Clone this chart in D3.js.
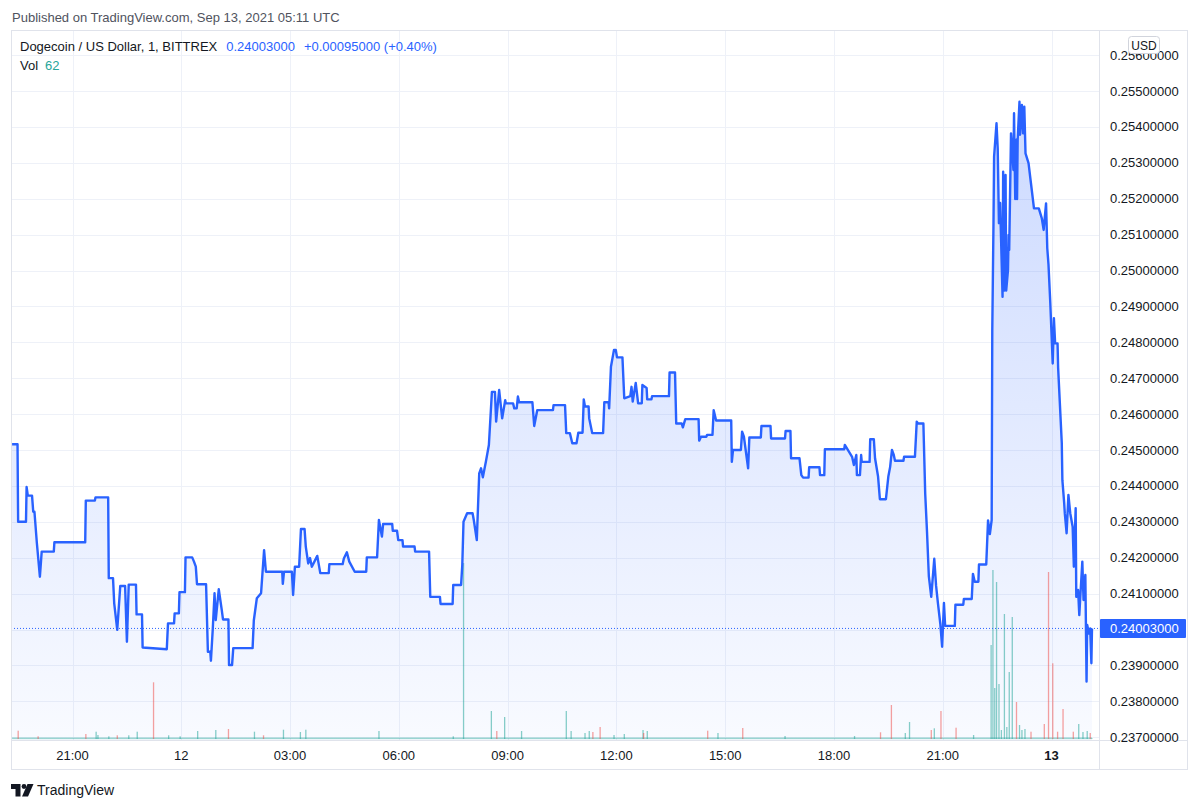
<!DOCTYPE html>
<html>
<head>
<meta charset="utf-8">
<script src="https://cdn.jsdelivr.net/npm/d3@7"></script>
<style>
  body { margin: 0; background: #fff; }
  svg { display: block; font-family: "Liberation Sans", Arial, sans-serif; }
</style>
</head>
<body>
<svg id="chart" width="1200" height="809"></svg>
<script>
// turning points of the 1-minute closes, minutes after Sep 11 19:00 (chart time)
var minutes = [
  20,29,30,43,44,46,53,55,57,61,66,69,89,90,141,142,157,158,179,180,
  187,189,194,199,207,210,213,225,226,235,236,276,278,288,289,296,297,306,307,318,
  321,324,326,341,344,348,349,352,355,357,362,367,369,378,379,384,386,418,420,425,
  432,437,440,467,
  468,470,483,485,488,495,498,504,506,510,513,516,525,530,544,545,567,569,574,578,
  587,606,607,624,627,632,634,649,650,657,659,666,667,686,687,710,712,728,729,749,
  750,763,765,767,773,782,784,789,793,796,799,804,809,814,819,821,826,831,836,837,
  849,851,855,857,859,881,884,889,915,916,
  935,937,943,947,954,957,964,966,968,974,975,980,998,1000,1007,1008,1011,1016,1019,1021,
  1030,1033,1043,1045,1047,1052,1056,1062,1063,1070,1071,1078,1079,1107,1108,1117,1119,1128,1130,1134,
  1156,1157,1160,1169,1170,1179,1181,1185,1210,1211,1213,1226,1228,1231,1238,1240,1259,1260,1275,1276,
  1299,1300,1308,1309,1323,1326,1329,1338,1339,1356,1357,1364,1365,1397,1398,1405,1410,1413,1417,1418,
  1423,1425,1426,1439,1440,1446,1448,1453,1456,1466,1470,1473,1476,1479,1481,1495,1496,1514,1517,1519,
  1528,1531,
  1534,1537,1541,1546,1549,1552,1556,1559,1562,1564,1580,1581,1594,1595,1608,1610,1613,1619,1620,1632,
  1635,1638,1641,1642,1644,1645,1649,1651,1653,1655,1656,1659,1660,1662,1664,1665,1668,1669,1670,1673,
  1677,1678,1680,1682,1683,1684,1687,1688,1691,1693,1695,1697,1702,1706,1711,1719,1724,1727,1731,1733,
  1735,1738,1742,1744,1746,1750,1751,1757,1758,1761,1762,1765,1768,1771,1775,1777,1780,1781,1784,1786,
  1788,1791,1793,1796,1798,1799,1802,1804,1806,1807
];
var closes = [
  0.24516,0.24516,0.24300,0.24300,0.24397,0.24373,0.24373,0.24328,0.24328,0.24241,
  0.24147,0.24217,0.24217,0.24243,0.24243,0.24359,0.24359,0.24368,0.24368,0.24143,
  0.24143,0.24073,0.23999,0.24121,0.24121,0.23966,0.24125,0.24125,0.24042,0.24042,
  0.23950,0.23945,0.24017,0.24017,0.24045,0.24045,0.24104,0.24104,0.24201,0.24201,
  0.24189,0.24175,0.24126,0.24126,0.23938,0.23938,0.23913,0.23999,0.24101,0.24026,
  0.24112,0.24054,0.24028,0.24028,0.23901,0.23901,0.23948,0.23948,0.24025,0.24087,
  0.24101,0.24221,0.24161,0.24161,
  0.24127,0.24161,0.24161,0.24096,0.24175,0.24175,0.24280,0.24280,0.24231,0.24184,
  0.24199,0.24175,0.24205,0.24157,0.24157,0.24182,0.24182,0.24198,0.24215,0.24189,
  0.24161,0.24161,0.24201,0.24201,0.24305,0.24259,0.24294,0.24294,0.24275,0.24275,
  0.24249,0.24249,0.24231,0.24231,0.24217,0.24217,0.24091,0.24091,0.24071,0.24071,
  0.24124,0.24124,0.24180,0.24300,0.24324,0.24324,0.24305,0.24249,0.24435,0.24449,
  0.24424,0.24467,0.24514,0.24662,0.24662,0.24579,0.24667,0.24588,0.24639,0.24630,
  0.24630,0.24616,0.24616,0.24649,0.24633,0.24633,0.24567,0.24611,0.24611,0.24625,
  0.24625,0.24547,0.24547,0.24519,0.24519,0.24548,0.24548,0.24641,0.24621,0.24621,
  0.24588,0.24547,0.24547,0.24633,0.24633,0.24616,0.24732,0.24779,0.24779,0.24758,
  0.24758,0.24644,0.24650,0.24676,0.24635,0.24687,0.24630,0.24630,0.24681,0.24673,
  0.24641,0.24641,0.24650,0.24650,0.24716,0.24716,0.24574,0.24574,0.24563,0.24586,
  0.24586,0.24526,0.24537,0.24537,0.24542,0.24542,0.24611,0.24582,0.24582,0.24467,
  0.24500,0.24500,0.24551,0.24537,0.24449,0.24535,0.24535,0.24567,0.24567,0.24532,
  0.24532,0.24553,0.24553,0.24477,0.24477,0.24430,0.24423,0.24423,0.24452,0.24452,
  0.24430,0.24430,0.24502,0.24502,0.24514,0.24495,0.24481,0.24458,0.24486,0.24430,
  0.24430,0.24486,0.24467,0.24467,0.24530,0.24530,0.24477,0.24426,0.24363,0.24363,
  0.24426,0.24453,0.24500,0.24486,0.24470,0.24470,0.24481,0.24481,0.24579,0.24574,
  0.24574,0.24379,
  0.24272,0.24149,0.24091,0.24197,0.24122,0.24074,0.24016,0.23952,0.24074,0.24010,
  0.24010,0.24069,0.24069,0.24085,0.24085,0.24155,0.24133,0.24133,0.24181,0.24181,
  0.24304,0.24266,0.24305,0.24834,0.25132,0.25317,0.25410,0.25340,0.25132,0.25188,
  0.25122,0.24927,0.25275,0.24944,0.25266,0.24944,0.25001,0.25099,0.25057,0.25382,
  0.25280,0.25438,0.25199,0.25364,0.25199,0.25364,0.25470,0.25378,0.25461,0.25382,
  0.25456,0.25326,0.25299,0.25243,0.25173,0.25173,0.25145,0.25113,0.25187,0.25062,
  0.25017,0.24909,0.24741,0.24867,0.24797,0.24797,0.24728,0.24519,0.24416,0.24352,
  0.24324,0.24268,0.24375,0.24324,0.24286,0.24175,0.24338,0.24091,0.24110,0.24040,
  0.24101,0.24189,0.24082,0.24152,0.23855,0.24013,0.23989,0.24003,0.23906,0.24003
];

// visible volume bars (DOGE), same minute base; 1 = up bar, 0 = down bar
var volMinutes = [
  30,63,142,159,162,180,194,213,227,254,279,298,327,357,378,421,436,469,497,506,
  627,750,767,813,822,835,863,937,945,968,975,981,993,1016,1033,1064,1065,1071,1171,1188,
  1229,1299,1414,1457,1475,1498,1505,1541,1546,1557,1582,1611,1640,1643,1646,1649,1653,1657,1662,1666,
  1670,1675,1682,1687,1691,1696,1706,1728,1735,1742,1750,1759,1776,1785,1792,1799,1804,1807
];
var volumes = [
  830,270,500,730,400,270,370,370,730,5670,370,270,800,900,1000,730,370,930,700,930,
  800,270,17600,2800,800,2200,800,2800,800,600,800,700,1200,400,500,900,600,800,830,600,
  1100,300,300,670,3400,600,1700,900,1070,2800,1130,400,9400,16900,5100,15700,5500,900,12500,1200,
  6700,12200,3700,1400,900,1000,730,1500,16700,7570,730,3000,730,1500,700,800,600,62
];
var volUp = [
  0,0,0,1,1,1,0,1,1,0,1,1,1,1,0,1,0,1,1,1,
  1,1,1,1,0,1,1,1,1,1,1,0,0,1,1,1,0,1,0,1,
  0,1,1,0,0,1,1,0,1,0,0,1,1,1,1,1,1,1,1,1,
  1,1,0,1,1,1,0,0,0,0,0,0,0,1,1,1,0,1
];

var priceTicks = [0.237,0.238,0.239,0.240,0.241,0.242,0.243,0.244,0.245,0.246,
                  0.247,0.248,0.249,0.250,0.251,0.252,0.253,0.254,0.255,0.256];
var lastPrice = 0.24003;
var lastVol = 62;

var base = Date.UTC(2021, 8, 11, 19, 0);
function toDate(m) { return new Date(base + m * 60000); }

var plotLeft = 11, plotRight = 1099, plotTop = 30, plotBottom = 740, axisRight = 1188, axisBottom = 770;

var svg = d3.select("#chart");

var x = d3.scaleUtc()
  .domain([toDate(18.2), toDate(1818.6)])
  .range([plotLeft, plotRight]);

var y = d3.scaleLinear()
  .domain([0.237, 0.256])
  .range([737.2, 55.1]);

var vy = d3.scaleLinear()
  .domain([0, 18000])
  .range([739, 559]);

var points = minutes.map(function(m, i) { return { t: toDate(m), p: closes[i] }; });

// header
svg.append("text")
  .attr("x", 12).attr("y", 22)
  .attr("font-size", 13).attr("fill", "#50535e")
  .text("Published on TradingView.com, Sep 13, 2021 05:11 UTC");

var defs = svg.append("defs");
defs.append("clipPath").attr("id", "plot")
  .append("rect").attr("x", plotLeft + 1).attr("y", plotTop + 1)
  .attr("width", plotRight - plotLeft - 1).attr("height", plotBottom - plotTop - 1);

var grad = defs.append("linearGradient").attr("id", "fill")
  .attr("gradientUnits", "userSpaceOnUse")
  .attr("x1", 0).attr("x2", 0).attr("y1", y(0.2547)).attr("y2", plotBottom);
grad.append("stop").attr("offset", 0).attr("stop-color", "#2962ff").attr("stop-opacity", 0.24);
grad.append("stop").attr("offset", 1).attr("stop-color", "#2962ff").attr("stop-opacity", 0.03);

var plot = svg.append("g").attr("clip-path", "url(#plot)");

// grid
var timeTicks = x.ticks(d3.utcHour.every(3));
plot.selectAll(".hgrid").data(priceTicks).join("line")
  .attr("x1", plotLeft).attr("x2", plotRight)
  .attr("y1", function(d) { return Math.round(y(d)) + 0.5; })
  .attr("y2", function(d) { return Math.round(y(d)) + 0.5; })
  .attr("stroke", "#eef1f8");
plot.selectAll(".vgrid").data(timeTicks).join("line")
  .attr("x1", function(d) { return Math.round(x(d)) + 0.5; })
  .attr("x2", function(d) { return Math.round(x(d)) + 0.5; })
  .attr("y1", plotTop).attr("y2", plotBottom)
  .attr("stroke", "#eef1f8");

// area under the price line
plot.append("path").datum(points)
  .attr("fill", "url(#fill)")
  .attr("d", d3.area()
    .x(function(d) { return x(d.t); })
    .y0(plotBottom)
    .y1(function(d) { return y(d.p); }));

// volume: thin strip of tiny bars along the base, then the visible bars
plot.append("rect")
  .attr("x", x(toDate(minutes[0])))
  .attr("y", 737.5)
  .attr("width", x(toDate(volMinutes[volMinutes.length - 1])) - x(toDate(minutes[0])))
  .attr("height", 1.6)
  .attr("fill", "rgba(38,166,154,0.45)");

plot.selectAll(".vol").data(volumes).join("rect")
  .attr("x", function(d, i) { return x(toDate(volMinutes[i])) - 0.6; })
  .attr("width", 1.3)
  .attr("y", function(d) { return vy(d); })
  .attr("height", function(d) { return 739 - vy(d); })
  .attr("fill", function(d, i) { return volUp[i] ? "rgba(38,166,154,0.55)" : "rgba(239,83,80,0.55)"; });

// last price dotted line
plot.append("line")
  .attr("x1", plotLeft).attr("x2", plotRight)
  .attr("y1", y(lastPrice)).attr("y2", y(lastPrice))
  .attr("stroke", "#2962ff").attr("stroke-width", 1)
  .attr("stroke-dasharray", "1,2");

// price line
plot.append("path").datum(points)
  .attr("fill", "none")
  .attr("stroke", "#2962ff")
  .attr("stroke-width", 2.4)
  .attr("stroke-linejoin", "round")
  .attr("d", d3.line()
    .x(function(d) { return x(d.t); })
    .y(function(d) { return y(d.p); }));

// frame and axis separators
svg.append("rect")
  .attr("x", plotLeft + 0.5).attr("y", plotTop + 0.5)
  .attr("width", axisRight - plotLeft - 1).attr("height", axisBottom - plotTop - 1)
  .attr("fill", "none").attr("stroke", "#e0e3eb");
svg.append("line").attr("x1", plotRight + 0.5).attr("x2", plotRight + 0.5)
  .attr("y1", plotTop).attr("y2", axisBottom).attr("stroke", "#e0e3eb");
svg.append("line").attr("x1", plotLeft).attr("x2", axisRight)
  .attr("y1", plotBottom + 0.5).attr("y2", plotBottom + 0.5).attr("stroke", "#e0e3eb");

// price axis labels (the top one sits partly under the USD badge, as in the original)
var fmt = d3.format(".8f");
svg.selectAll(".plabel").data(priceTicks).join("text")
  .attr("x", 1110).attr("y", function(d) { return y(d) + 4.5; })
  .attr("font-size", 13).attr("fill", "#131722")
  .text(function(d) { return fmt(d); });

// USD badge
svg.append("rect")
  .attr("x", 1128.5).attr("y", 36.5).attr("width", 31).attr("height", 17).attr("rx", 3)
  .attr("fill", "#fff").attr("stroke", "#d1d4dc");
svg.append("text")
  .attr("x", 1144).attr("y", 49.5).attr("text-anchor", "middle")
  .attr("font-size", 12).attr("fill", "#131722").text("USD");

// last price label
svg.append("rect")
  .attr("x", plotRight + 1).attr("y", y(lastPrice) - 9.5)
  .attr("width", 86).attr("height", 19).attr("rx", 1)
  .attr("fill", "#2962ff");
svg.append("text")
  .attr("x", 1110).attr("y", y(lastPrice) + 4.5)
  .attr("font-size", 13).attr("fill", "#fff")
  .text(fmt(lastPrice));

// time axis labels
var dayFmt = d3.utcFormat("%-d"), hourFmt = d3.utcFormat("%H:%M");
svg.selectAll(".tlabel").data(timeTicks).join("text")
  .attr("x", function(d) { return x(d); })
  .attr("y", 760)
  .attr("text-anchor", "middle")
  .attr("font-size", 13).attr("fill", "#131722")
  .attr("font-weight", function(d) { return d.getUTCHours() === 0 && d.getUTCDate() === 13 ? "bold" : "normal"; })
  .text(function(d) { return d.getUTCHours() === 0 ? dayFmt(d) : hourFmt(d); });

// legend
var leg = svg.append("text").attr("x", 20).attr("y", 51).attr("font-size", 13);
leg.append("tspan").attr("fill", "#131722").text("Dogecoin / US Dollar, 1, BITTREX");
leg.append("tspan").attr("dx", 9).attr("fill", "#2962ff").text(fmt(lastPrice));
leg.append("tspan").attr("dx", 9).attr("fill", "#2962ff").text("+0.00095000 (+0.40%)");
var vleg = svg.append("text").attr("x", 20).attr("y", 70).attr("font-size", 13);
vleg.append("tspan").attr("fill", "#131722").text("Vol");
vleg.append("tspan").attr("dx", 7).attr("fill", "#26a69a").text(lastVol);

// footer logo
var logo = svg.append("g").attr("fill", "#131722");
logo.append("path").attr("d", "M11,784H20.5V796.5H15.5V789H11Z");
logo.append("circle").attr("cx", 24).attr("cy", 786.5).attr("r", 2.4);
logo.append("path").attr("d", "M27.5,784H33.5L28,796.5H22Z");
svg.append("text").attr("x", 37).attr("y", 795)
  .attr("font-size", 14).attr("fill", "#131722").text("TradingView");
</script>
</body>
</html>
